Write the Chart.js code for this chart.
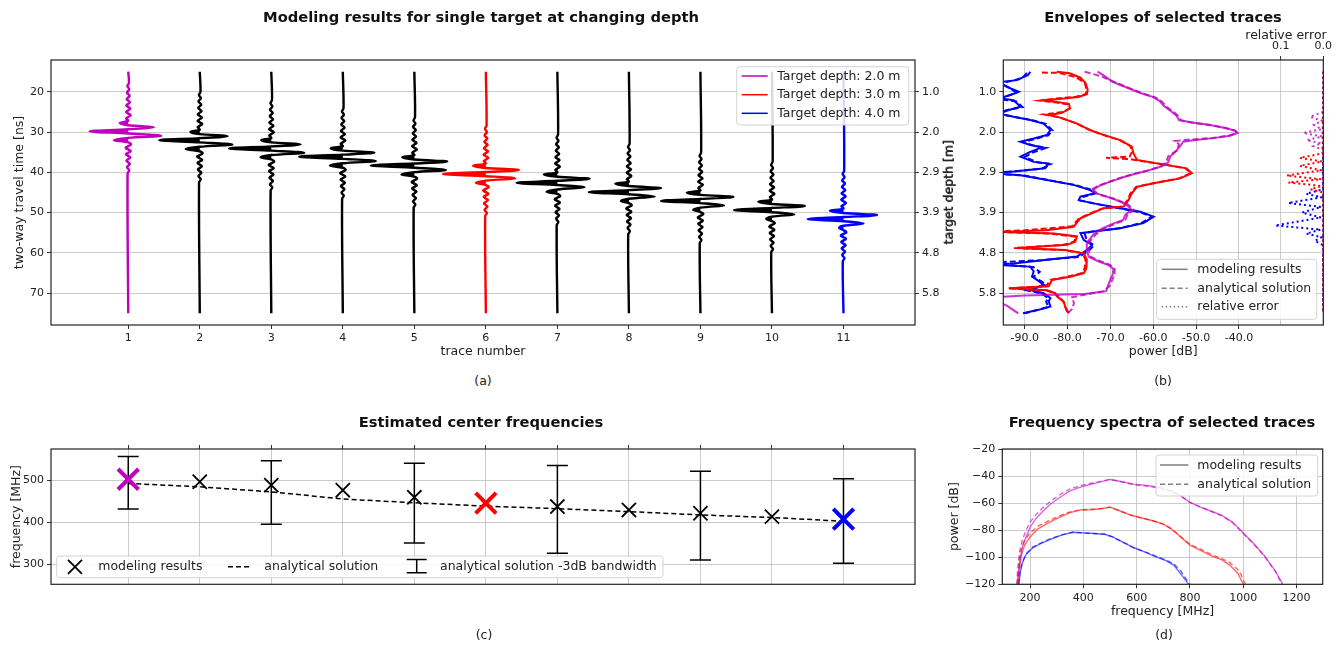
<!DOCTYPE html>
<html><head><meta charset="utf-8">
<script src="https://cdn.jsdelivr.net/npm/chart.js@4.4.1/dist/chart.umd.min.js"></script>
<style>
body{margin:0;background:#fff;}
#wrap{position:relative;width:1343px;height:649px;overflow:hidden;font-family:'DejaVu Sans',sans-serif;color:#111;}
canvas{position:absolute;}
.t{position:absolute;white-space:nowrap;transform:translate(-50%,-50%);}
.title{font-weight:bold;font-size:14.7px;}
.lbl{font-size:12.5px;color:#222;}
</style></head><body>
<div id="wrap">
<canvas id="ca" width="960" height="370" style="left:0;top:0"></canvas>
<canvas id="cb" width="408" height="370" style="left:935px;top:0"></canvas>
<canvas id="cc" width="935" height="249" style="left:0;top:400px"></canvas>
<canvas id="cd" width="408" height="249" style="left:935px;top:400px"></canvas>
<div class="t title" style="left:481px;top:16px">Modeling results for single target at changing depth</div>
<div class="t title" style="left:1163px;top:16px">Envelopes of selected traces</div>
<div class="t title" style="left:481px;top:421px">Estimated center frequencies</div>
<div class="t title" style="left:1162px;top:421px">Frequency spectra of selected traces</div>
<div class="t lbl" style="left:483px;top:380px">(a)</div>
<div class="t lbl" style="left:1163px;top:380px">(b)</div>
<div class="t lbl" style="left:484px;top:634px">(c)</div>
<div class="t lbl" style="left:1164px;top:634px">(d)</div>
<div class="t lbl" style="left:1286px;top:34px">relative error</div>
<div class="t lbl" style="left:948px;top:192px;transform:translate(-50%,-50%) rotate(-90deg)">target depth [m]</div>
</div>
<script>
// ---------------- DATA ----------------
// panel (a)
const traceNumbers = [1,2,3,4,5,6,7,8,9,10,11];
const traceArrivalNs = [29.8,32.0,34.05,36.1,38.3,40.4,42.6,44.9,47.1,49.35,51.6];
const traceWindowNs = [15,75];
const timeTicksNs = [20,30,40,50,60,70];
const depthTickLabels = ['1.0','2.0','2.9','3.9','4.8','5.8'];
const legendDepthsM = [2.0,3.0,4.0];
const rippleBeforeNs = [-12.0,-11.2,-10.4,-9.6,-8.8,-8.0,-7.2,-6.4,-5.6,-4.8,-4.0,-3.2];
const rippleBeforeAmp = [0.010,-0.012,0.015,-0.018,0.020,-0.022,0.025,-0.028,0.030,-0.032,0.035,-0.030];
const eventOffsetsNs = [-2.6,-2.05,-1.5,-1.0,-0.5,0,0.55,1.1,1.65,2.2,2.75];
const lobeAmps = [
  [-0.12,0.36,-0.54,0.46,-0.20],
  [-0.13,0.39,-0.565,0.455,-0.196],
  [-0.14,0.41,-0.59,0.46,-0.15],
  [-0.17,0.44,-0.61,0.46,-0.18],
  [-0.17,0.46,-0.61,0.44,-0.18],
  [-0.18,0.46,-0.60,0.41,-0.14],
  [-0.19,0.45,-0.57,0.38,-0.15],
  [-0.19,0.45,-0.56,0.36,-0.11],
  [-0.19,0.46,-0.55,0.33,-0.10],
  [-0.19,0.46,-0.53,0.31,-0.08],
  [-0.19,0.47,-0.50,0.28,-0.06]
];
const rippleAfterNs = [3.3,4.1,4.9,5.7,6.5,7.3,8.1,8.9,9.7,10.5];
const rippleAfterAmp = [0.040,-0.038,0.035,-0.032,0.030,-0.026,0.022,-0.018,0.014,-0.010];

// panel (b): [power dB, time ns]
const envMagModel = [[-73.0,15.0],[-71.5,16.0],[-69.5,17.5],[-66.5,18.8],[-63.0,20.3],[-60.0,21.3],[-58.5,22.3],[-57.5,23.5],[-56.0,24.7],[-54.5,26.0],[-54.0,27.0],[-51.0,27.6],[-47.0,28.2],[-43.5,28.9],[-41.0,29.6],[-40.3,30.2],[-42.0,30.9],[-46.0,31.5],[-50.5,32.0],[-53.0,32.4],[-53.5,33.2],[-54.5,34.5],[-56.0,36.0],[-56.5,37.5],[-58.0,38.5],[-61.0,39.5],[-64.0,40.3],[-67.0,41.2],[-70.0,42.3],[-72.5,43.3],[-74.0,44.3],[-73.0,45.3],[-69.5,46.5],[-66.5,47.8],[-65.0,49.3],[-66.5,50.5],[-67.0,51.8],[-69.5,52.8],[-72.0,54.0],[-74.0,55.5],[-75.5,57.5],[-75.5,59.5],[-75.0,61.0],[-73.0,62.0],[-70.5,63.0],[-69.3,64.0],[-69.5,65.5],[-70.0,66.5],[-70.5,68.0],[-71.0,69.5],[-76.0,70.2],[-90.0,70.6],[-100.0,71.2],[-96.0,72.2],[-94.0,73.2],[-91.5,75.0]];
const envMagAnalytic = [[-76.0,15.0],[-72.0,16.2],[-69.0,17.6],[-66.0,18.9],[-62.5,20.4],[-59.5,21.4],[-58.0,22.4],[-57.0,23.6],[-55.5,24.8],[-54.0,26.1],[-53.5,27.1],[-50.5,27.7],[-46.5,28.3],[-43.0,29.0],[-40.8,29.7],[-40.5,30.2],[-42.5,30.9],[-46.5,31.5],[-52.0,31.9],[-55.0,32.2],[-54.0,33.0],[-54.5,34.6],[-56.5,36.0],[-57.0,37.5],[-58.5,38.6],[-61.5,39.6],[-64.5,40.4],[-67.5,41.3],[-70.5,42.4],[-73.0,43.4],[-74.5,44.4],[-73.0,45.4],[-69.0,46.6],[-66.0,47.9],[-64.5,49.3],[-66.0,50.5],[-66.5,51.8],[-69.0,52.8],[-71.5,54.0],[-73.5,55.5],[-75.0,57.5],[-75.0,59.5],[-74.5,61.0],[-72.5,62.0],[-70.0,63.0],[-69.0,64.0],[-69.0,65.5],[-69.5,66.5],[-70.0,68.0],[-71.5,69.5],[-76.0,70.4],[-79.0,71.0],[-78.5,72.5],[-79.0,74.0],[-80.0,75.0]];
const envRedModel = [[-82.5,15.0],[-79.5,15.4],[-77.0,16.5],[-75.8,17.8],[-75.3,19.5],[-75.5,20.6],[-77.5,21.3],[-82.0,21.8],[-86.0,22.1],[-82.5,22.5],[-79.7,23.0],[-79.4,24.1],[-81.3,25.2],[-84.4,25.8],[-81.7,26.4],[-77.8,27.9],[-74.7,29.5],[-71.6,30.7],[-67.7,32.0],[-65.0,33.6],[-64.6,35.3],[-63.8,36.9],[-56.8,38.2],[-52.2,39.0],[-51.0,40.2],[-53.7,41.5],[-59.9,42.7],[-63.8,43.6],[-65.0,45.2],[-65.8,46.9],[-66.9,48.5],[-71.6,48.9],[-77.0,51.4],[-78.6,53.5],[-85.0,54.4],[-95.5,54.8],[-83.2,55.2],[-77.8,55.9],[-78.2,57.2],[-80.1,58.0],[-91.5,58.8],[-80.5,59.3],[-76.2,60.1],[-75.5,61.7],[-75.6,63.8],[-76.2,65.0],[-79.4,65.9],[-83.6,66.7],[-84.4,68.3],[-93.5,68.8],[-84.8,69.3],[-82.9,70.0],[-82.5,70.8],[-80.9,72.1],[-80.5,73.5],[-79.7,75.0]];
const envRedAnalytic = [[-86.0,15.2],[-82.0,15.3],[-78.0,16.4],[-76.0,17.8],[-75.5,19.5],[-75.8,20.6],[-78.0,21.2],[-83.0,21.7],[-86.5,22.2],[-83.0,22.6],[-80.0,23.1],[-79.5,24.1],[-81.0,25.0],[-85.5,25.6],[-82.0,26.3],[-78.0,27.8],[-75.0,29.4],[-72.0,30.6],[-68.0,31.9],[-65.3,33.5],[-65.0,35.0],[-65.5,36.1],[-71.0,36.4],[-65.5,36.7],[-64.0,37.0],[-57.0,38.1],[-52.5,39.0],[-51.2,40.2],[-54.0,41.5],[-60.0,42.7],[-64.0,43.6],[-65.3,45.2],[-66.0,46.9],[-67.2,48.5],[-72.0,49.0],[-77.3,51.4],[-79.0,53.4],[-90.0,54.4],[-100.0,54.7],[-84.0,55.2],[-78.0,56.0],[-78.5,57.2],[-81.0,58.0],[-92.5,58.8],[-81.0,59.3],[-76.5,60.1],[-75.8,61.7],[-76.0,63.8],[-76.5,65.0],[-80.0,65.9],[-84.0,66.7],[-85.0,68.3],[-94.0,68.8],[-85.0,69.3],[-83.0,70.0],[-82.0,70.8],[-81.0,72.1],[-80.5,73.5],[-80.0,75.0]];
const envBlueModel = [[-88.7,15.0],[-89.2,15.8],[-91.8,17.1],[-96.0,17.6],[-94.1,18.8],[-91.4,20.0],[-93.3,20.8],[-96.0,21.6],[-92.6,22.1],[-91.0,23.7],[-93.7,24.5],[-96.0,25.4],[-92.6,26.2],[-88.7,27.0],[-85.6,27.9],[-84.0,29.5],[-84.8,30.7],[-87.9,31.6],[-91.0,32.4],[-88.7,33.2],[-86.0,33.8],[-88.7,34.9],[-91.0,36.1],[-87.9,37.4],[-84.4,37.8],[-85.2,39.0],[-92.6,39.8],[-100.0,40.1],[-91.0,40.7],[-84.8,41.9],[-78.6,43.1],[-74.7,44.4],[-73.5,45.2],[-77.0,46.0],[-77.4,46.9],[-73.9,47.7],[-67.7,48.9],[-63.0,49.8],[-59.9,51.0],[-62.3,52.6],[-67.7,53.9],[-73.9,54.7],[-77.0,55.1],[-76.2,56.8],[-74.3,58.0],[-75.5,59.3],[-77.8,60.9],[-84.8,61.7],[-92.6,62.6],[-100.0,62.8],[-88.7,63.4],[-87.9,64.6],[-88.3,65.9],[-86.7,67.0],[-85.6,67.9],[-88.7,69.2],[-85.6,70.0],[-84.0,71.2],[-84.4,72.0],[-84.0,73.3],[-87.0,74.2],[-90.4,75.0]];
const envBlueAnalytic = [[-89.5,15.3],[-90.5,16.5],[-93.0,17.3],[-96.0,17.8],[-93.5,19.0],[-92.0,20.2],[-94.0,21.0],[-96.0,21.8],[-92.0,22.4],[-90.5,23.8],[-94.5,24.6],[-96.0,25.5],[-92.0,26.3],[-88.0,27.1],[-85.0,28.0],[-83.5,29.6],[-84.5,30.8],[-87.5,31.7],[-90.5,32.5],[-88.0,33.3],[-85.0,33.9],[-88.0,35.0],[-90.0,36.2],[-87.0,37.5],[-84.0,38.0],[-86.0,39.1],[-94.0,39.9],[-100.0,40.2],[-90.0,40.8],[-84.0,42.0],[-78.0,43.2],[-74.0,44.5],[-73.8,45.3],[-76.5,46.1],[-77.0,47.0],[-73.5,47.8],[-67.5,49.0],[-63.2,49.9],[-60.3,51.0],[-62.8,52.6],[-68.0,53.9],[-74.0,54.6],[-76.0,55.2],[-75.5,56.9],[-73.8,58.1],[-75.0,59.4],[-77.3,61.0],[-86.0,61.8],[-100.0,62.5],[-88.0,63.5],[-86.5,64.7],[-88.0,66.0],[-86.0,67.1],[-85.0,68.0],[-89.5,69.3],[-86.0,70.1],[-84.5,71.3],[-85.0,72.1],[-84.5,73.4],[-87.5,74.3],[-90.0,75.0]];
// relative error: [error, time ns]
const errMag = [[0,15],[0.001,25.0],[0.031,26.2],[0.003,27.2],[0.022,28.2],[0.004,29.3],[0.047,30.2],[0.003,31.1],[0.039,32.0],[0.005,32.8],[0.023,33.5],[0.001,34.4],[0,75]];
const errRed = [[0,15],[0.002,35.3],[0.055,36.4],[0.003,37.3],[0.055,38.4],[0.004,39.5],[0.086,40.8],[0.005,41.7],[0.082,42.5],[0.004,43.4],[0.030,44.2],[0.001,45.0],[0,75]];
const errBlue = [[0,15],[0.001,44.2],[0.040,45.3],[0.004,46.2],[0.082,47.6],[0.005,48.6],[0.050,50.0],[0.005,51.2],[0.113,53.2],[0.006,54.2],[0.040,55.2],[0.004,56.1],[0.020,57.0],[0.002,58.0],[0,59],[0,75]];
const powerTicksDb = [-90,-80,-70,-60,-50,-40];
const errTicks = [0.1,0.0];

// panel (c)
const modeledFreqMHz = [502,496,488,476,459,445,437,429,421,413,407];
const analyticFreqMHz = [492,484,472,455,446,438,432,425,417,411,402];
const bwTraces = [1,3,5,7,9,11];
const bwHighMHz = [556,546,540,535,521,503];
const bwLowMHz = [431,395,350,326,310,302];
const freqTicksMHz = [300,400,500];

// panel (d): [frequency MHz, power dB]
const specMagModel = [[152,-120],[157,-110],[163,-101],[172,-92],[185,-85],[200,-78],[220,-72],[245,-66.5],[275,-61],[310,-56],[350,-51],[400,-47.5],[450,-45],[500,-42.5],[540,-44],[590,-46],[640,-47],[690,-48.5],[730,-51],[770,-55],[800,-59.5],[840,-63],[880,-66],[920,-69],[960,-74],[1000,-82],[1040,-90],[1080,-99],[1120,-110],[1148,-120]];
const specMagAnalytic = [[150,-120],[154,-108],[160,-97],[170,-88],[185,-80],[200,-74],[220,-69],[245,-64],[275,-59],[310,-54],[350,-49.5],[400,-46.5],[450,-44.5],[500,-42.5],[540,-44],[590,-46.5],[640,-47.5],[690,-49],[730,-51.5],[770,-55.5],[800,-59.5],[840,-63],[880,-66],[920,-69.5],[960,-74.5],[1000,-82.5],[1040,-90.5],[1080,-99.5],[1120,-110.5],[1146,-120]];
const specRedModel = [[156,-120],[160,-108],[168,-98],[180,-91],[200,-85],[230,-79],[270,-74.5],[310,-70.5],[350,-67],[390,-65],[430,-65],[470,-64],[500,-63],[540,-66],[580,-69],[620,-71],[660,-73],[700,-75.5],[730,-79],[770,-86],[800,-91],[840,-95],[880,-99],[920,-102],[950,-106],[980,-112],[1000,-120]];
const specRedAnalytic = [[154,-120],[158,-105],[165,-95],[178,-88],[200,-82],[230,-77],[270,-73],[310,-69.5],[350,-66.5],[390,-65],[430,-64.5],[470,-64],[500,-63],[540,-66],[580,-69],[620,-71],[660,-73],[700,-75.5],[730,-79],[770,-85.5],[800,-90.5],[840,-94],[880,-98],[920,-101],[950,-104],[985,-110],[1008,-120]];
const specBlueModel = [[158,-120],[163,-112],[170,-105],[185,-98],[210,-93],[240,-90],[280,-86.5],[320,-83.5],[360,-81.5],[400,-82],[440,-82.5],[480,-83],[510,-85],[550,-89],[590,-93],[630,-96],[670,-99.5],[710,-102.5],[740,-106],[760,-111],[780,-116],[795,-120]];
const specBlueAnalytic = [[157,-120],[162,-111],[170,-104],[185,-97.5],[210,-92.5],[240,-89.5],[280,-86],[320,-83.5],[360,-81.5],[400,-82],[440,-82.5],[480,-83],[510,-85],[550,-89],[590,-93],[630,-96],[670,-99],[710,-102],[740,-105],[765,-110],[785,-116],[800,-120]];
const specFreqTicks = [200,400,600,800,1000,1200];
const specPowerTicks = [-120,-100,-80,-60,-40,-20];

// ---------------- STYLE ----------------
const MAG='#bf00bf', RED='#ff0000', BLUE='#0000ff';
const GRID='rgba(170,170,170,0.6)';
const TICKC='#333';
const FONT="'DejaVu Sans', sans-serif";
Chart.defaults.font.family = FONT;
Chart.defaults.font.size = 11;
Chart.defaults.color = '#222';
Chart.defaults.animation = false;
Chart.defaults.events = [];
Chart.defaults.plugins.legend.display = false;
Chart.defaults.plugins.tooltip.enabled = false;

const fixedTicks = vals => s => { s.ticks = vals.map(v => ({value: v})); };
const fixW = w => s => { s.width = w; };
const fixH = h => s => { s.height = h; };
const toXY = arr => arr.map(p => ({x: p[0], y: p[1]}));

const framePlugin = {id:'frame', afterDraw(chart){
  const a=chart.chartArea, c=chart.ctx; c.save(); c.strokeStyle='#222'; c.lineWidth=1.2;
  c.strokeRect(a.left, a.top, a.right-a.left, a.bottom-a.top); c.restore(); }};

function rr(c,x,y,w,h,r){ c.beginPath(); c.moveTo(x+r,y); c.lineTo(x+w-r,y); c.quadraticCurveTo(x+w,y,x+w,y+r);
  c.lineTo(x+w,y+h-r); c.quadraticCurveTo(x+w,y+h,x+w-r,y+h); c.lineTo(x+r,y+h); c.quadraticCurveTo(x,y+h,x,y+h-r);
  c.lineTo(x,y+r); c.quadraticCurveTo(x,y,x+r,y); c.closePath(); }
function legendPlugin(spec){
  return {id:'lg'+spec.id, afterDraw(chart){
    const c=chart.ctx, b=spec.box; c.save();
    rr(c,b.x,b.y,b.w,b.h,3); c.fillStyle='rgba(255,255,255,0.85)'; c.fill(); c.strokeStyle='#d3d3d3'; c.lineWidth=1; c.stroke();
    for(const it of spec.items){
      c.setLineDash([]);
      if(it.k==='line'){ c.beginPath(); c.strokeStyle=it.color; c.lineWidth=it.lw||1.5; c.setLineDash(it.dash||[]);
        c.moveTo(it.x1,it.y); c.lineTo(it.x2,it.y); c.stroke(); }
      else if(it.k==='x'){ c.beginPath(); c.strokeStyle=it.color; c.lineWidth=it.lw; const r=it.r;
        c.moveTo(it.x-r,it.y-r); c.lineTo(it.x+r,it.y+r); c.moveTo(it.x-r,it.y+r); c.lineTo(it.x+r,it.y-r); c.stroke(); }
      else if(it.k==='eb'){ c.beginPath(); c.strokeStyle=it.color; c.lineWidth=it.lw;
        c.moveTo(it.x,it.y1); c.lineTo(it.x,it.y2); c.moveTo(it.x-it.cap,it.y1); c.lineTo(it.x+it.cap,it.y1);
        c.moveTo(it.x-it.cap,it.y2); c.lineTo(it.x+it.cap,it.y2); c.stroke(); }
      else if(it.k==='text'){ c.fillStyle='#222'; c.font="12.5px "+FONT; c.textBaseline='middle'; c.textAlign='left'; c.fillText(it.text,it.x,it.y); }
    }
    c.restore(); }};
}
const axTitle = (text, pad) => ({display:true, text, color:'#222', font:{size:12.5}, padding:pad});

// ---------------- PANEL (a) ----------------
const traceColor = i => (i===0?MAG:(i===5?RED:(i===10?BLUE:'#000')));
function tracePoints(i){
  const n=traceNumbers[i], t0=traceArrivalNs[i], la=lobeAmps[i];
  const pts=[{x:n,y:traceWindowNs[0]}];
  rippleBeforeNs.forEach((o,k)=>pts.push({x:n+rippleBeforeAmp[k], y:t0+o}));
  const ev=[0,la[0],0,la[1],0,la[2],0,la[3],0,la[4],0];
  eventOffsetsNs.forEach((o,k)=>pts.push({x:n+ev[k], y:t0+o}));
  rippleAfterNs.forEach((o,k)=>pts.push({x:n+rippleAfterAmp[k], y:t0+o}));
  pts.push({x:n,y:traceWindowNs[1]});
  return pts;
}
const aDatasets=[];
traceNumbers.forEach((n,i)=>{
  const col=traceColor(i), pts=tracePoints(i);
  aDatasets.push({data:pts, borderColor:col, borderWidth:2.4, pointRadius:0, tension:0.35, fill:false, order:0});
  aDatasets.push({data:pts.map(p=>({x:Math.min(p.x,n), y:p.y})), borderWidth:0, borderColor:'rgba(0,0,0,0)',
    backgroundColor:col, pointRadius:0, tension:0.35, fill:{value:n}, order:1});
});
const legendA = legendPlugin({id:'a', box:{x:736.7,y:66.7,w:172,h:58.3}, items:[
  {k:'line',x1:741.7,x2:767.7,y:76,color:MAG,lw:1.5},{k:'text',x:777.3,y:76.5,text:`Target depth: ${legendDepthsM[0].toFixed(1)} m`},
  {k:'line',x1:741.7,x2:767.7,y:94.7,color:RED,lw:1.5},{k:'text',x:777.3,y:95,text:`Target depth: ${legendDepthsM[1].toFixed(1)} m`},
  {k:'line',x1:741.7,x2:767.7,y:113.3,color:BLUE,lw:1.5},{k:'text',x:777.3,y:113.6,text:`Target depth: ${legendDepthsM[2].toFixed(1)} m`}]});
new Chart(document.getElementById('ca'), {
  type:'line', data:{datasets:aDatasets},
  options:{responsive:false, indexAxis:'y', layout:{padding:{top:60,left:0,right:0,bottom:0}},
    scales:{
      x:{type:'linear', position:'bottom', min:-0.08, max:12, afterBuildTicks:fixedTicks(traceNumbers), afterFit:fixH(45),
        ticks:{autoSkip:false, maxRotation:0, padding:3, callback:v=>String(v)},
        grid:{drawOnChartArea:false, tickLength:4, tickColor:TICKC}, border:{display:false},
        title:axTitle('trace number',{top:0,bottom:10.5})},
      y:{type:'linear', position:'left', reverse:true, min:12.1, max:77.9, afterBuildTicks:fixedTicks(timeTicksNs), afterFit:fixW(51),
        ticks:{padding:3, callback:v=>String(v)}, grid:{color:GRID, tickLength:4, tickColor:TICKC}, border:{display:false},
        title:axTitle('two-way travel time [ns]',{top:12,bottom:0})},
      y2:{type:'linear', position:'right', reverse:true, min:12.1, max:77.9, afterBuildTicks:fixedTicks(timeTicksNs), afterFit:fixW(45),
        ticks:{padding:3, callback:(v,i)=>depthTickLabels[i]}, grid:{drawOnChartArea:false, tickLength:4, tickColor:TICKC}, border:{display:false}}
    }},
  plugins:[framePlugin, legendA]
});

// ---------------- PANEL (b) ----------------
const MAGB='rgba(191,0,191,0.8)';
const envLine = (arr,col,dash) => ({data:toXY(arr), borderColor:col, borderWidth:2, borderDash:dash||[], showLine:true, pointRadius:0, xAxisID:'x', yAxisID:'y'});
const errLine = (arr,col) => ({data:toXY(arr), borderColor:col, borderWidth:2, borderDash:[2,3], showLine:true, pointRadius:0, xAxisID:'x2', yAxisID:'y'});
const legendB = legendPlugin({id:'b', box:{x:221.7,y:259.3,w:160,h:60}, items:[
  {k:'line',x1:226.7,x2:252.7,y:269.3,color:'rgba(0,0,0,0.5)',lw:1.5},{k:'text',x:262.3,y:269.6,text:'modeling results'},
  {k:'line',x1:226.7,x2:252.7,y:288.3,color:'rgba(0,0,0,0.5)',lw:1.5,dash:[5,3]},{k:'text',x:262.3,y:288.6,text:'analytical solution'},
  {k:'line',x1:226.7,x2:252.7,y:306.7,color:'rgba(0,0,0,0.5)',lw:1.5,dash:[1.5,2.5]},{k:'text',x:262.3,y:307,text:'relative error'}]});
new Chart(document.getElementById('cb'), {
  type:'scatter',
  data:{datasets:[
    envLine(envMagModel,MAGB), envLine(envMagAnalytic,MAGB,[6,3]),
    envLine(envRedModel,RED), envLine(envRedAnalytic,RED,[6,3]),
    envLine(envBlueModel,BLUE), envLine(envBlueAnalytic,BLUE,[6,3]),
    errLine(errMag,MAGB), errLine(errRed,RED), errLine(errBlue,BLUE)]},
  options:{responsive:false, layout:{padding:{top:20,left:0,right:19.7,bottom:0}},
    scales:{
      x:{type:'linear', position:'bottom', min:-95, max:-20.3, afterBuildTicks:fixedTicks(powerTicksDb), afterFit:fixH(45),
        ticks:{autoSkip:false, maxRotation:0, padding:3, callback:v=>v.toFixed(1)},
        grid:{color:GRID, tickLength:4, tickColor:TICKC}, border:{display:false}, title:axTitle('power [dB]',{top:0,bottom:10.5})},
      x2:{type:'linear', position:'top', reverse:true, min:0, max:0.751, afterBuildTicks:fixedTicks(errTicks), afterFit:fixH(40),
        ticks:{autoSkip:false, maxRotation:0, padding:3, callback:v=>v.toFixed(1)},
        grid:{color:GRID, tickLength:4, tickColor:TICKC}, border:{display:false}},
      y:{type:'linear', position:'left', reverse:true, min:12.1, max:77.9, afterBuildTicks:fixedTicks(timeTicksNs), afterFit:fixW(68.3),
        ticks:{padding:3, callback:(v,i)=>depthTickLabels[i]}, grid:{color:GRID, tickLength:4, tickColor:TICKC}, border:{display:false},
        title:axTitle('target depth [m]',{top:7.5,bottom:0})}
    }},
  plugins:[framePlugin, legendB]
});

// ---------------- PANEL (c) ----------------
const markerColors = traceNumbers.map((n,i)=>traceColor(i));
const cDatasets = [];
cDatasets.push({data:traceNumbers.map((n,i)=>({x:n,y:modeledFreqMHz[i]})), showLine:false, pointStyle:'crossRot',
  pointRadius:traceNumbers.map((n,i)=>markerColors[i]==='#000'?10:14.5),
  pointBorderWidth:traceNumbers.map((n,i)=>markerColors[i]==='#000'?1.8:4),
  pointBorderColor:markerColors, pointBackgroundColor:markerColors, order:0});
cDatasets.push({data:traceNumbers.map((n,i)=>({x:n,y:analyticFreqMHz[i]})), showLine:true, borderColor:'#000', borderWidth:1.5,
  borderDash:[5,3], pointRadius:0, order:1});
bwTraces.forEach((n,k)=>cDatasets.push({data:[{x:n,y:bwHighMHz[k]},{x:n,y:bwLowMHz[k]}], showLine:true, borderColor:'#000',
  borderWidth:1.5, pointStyle:'line', pointRadius:10.5, pointBorderWidth:1.5, pointBorderColor:'#000', order:2}));
const legendC = legendPlugin({id:'c', box:{x:56.7,y:156,w:606.3,h:21.7}, items:[
  {k:'x',x:75,y:166.8,r:7,color:'#000',lw:1.8},{k:'text',x:98.3,y:167,text:'modeling results'},
  {k:'line',x1:228,x2:252,y:166.8,color:'#000',lw:1.5,dash:[5,3]},{k:'text',x:264.3,y:167,text:'analytical solution'},
  {k:'eb',x:416.7,y1:159.5,y2:172.7,cap:10,color:'#000',lw:1.5},{k:'text',x:440,y:167,text:'analytical solution -3dB bandwidth'}]});
new Chart(document.getElementById('cc'), {
  type:'scatter', data:{datasets:cDatasets},
  options:{responsive:false, layout:{padding:{top:40,left:0,right:20,bottom:64.7}},
    scales:{
      x:{type:'linear', position:'top', min:-0.08, max:12, afterBuildTicks:fixedTicks(traceNumbers), afterFit:fixH(9),
        ticks:{display:false}, grid:{color:GRID, tickLength:4, tickColor:TICKC}, border:{display:false}},
      y:{type:'linear', position:'left', min:252, max:574, afterBuildTicks:fixedTicks(freqTicksMHz), afterFit:fixW(51),
        ticks:{padding:3, callback:v=>String(v)}, grid:{color:GRID, tickLength:4, tickColor:TICKC}, border:{display:false},
        title:axTitle('frequency [MHz]',{top:9.5,bottom:0})}
    }},
  plugins:[framePlugin, legendC]
});

// ---------------- PANEL (d) ----------------
const specLine = (arr,col,dash) => ({data:toXY(arr), borderColor:col, borderWidth:1.4, borderDash:dash||[], showLine:true, pointRadius:0});
const legendD = legendPlugin({id:'d', box:{x:221,y:55,w:161.7,h:41}, items:[
  {k:'line',x1:225,x2:253.3,y:65,color:'rgba(0,0,0,0.5)',lw:1.5},{k:'text',x:262.3,y:65.3,text:'modeling results'},
  {k:'line',x1:225,x2:253.3,y:84.3,color:'rgba(0,0,0,0.5)',lw:1.5,dash:[5,3]},{k:'text',x:262.3,y:84.6,text:'analytical solution'}]});
new Chart(document.getElementById('cd'), {
  type:'scatter',
  data:{datasets:[
    specLine(specMagModel,'rgba(191,0,191,0.6)'), specLine(specMagAnalytic,'rgba(191,0,191,0.6)',[5,3]),
    specLine(specRedModel,'rgba(255,0,0,0.6)'), specLine(specRedAnalytic,'rgba(255,0,0,0.6)',[5,3]),
    specLine(specBlueModel,'rgba(0,0,255,0.6)'), specLine(specBlueAnalytic,'rgba(0,0,255,0.6)',[5,3])]},
  options:{responsive:false, layout:{padding:{top:49,left:0,right:20.3,bottom:0}},
    scales:{
      x:{type:'linear', position:'bottom', min:96, max:1298, afterBuildTicks:fixedTicks(specFreqTicks), afterFit:fixH(64.7),
        ticks:{autoSkip:false, maxRotation:0, padding:3, callback:v=>String(v)},
        grid:{color:GRID, tickLength:4, tickColor:TICKC}, border:{display:false}, title:axTitle('frequency [MHz]',{top:0,bottom:29.8})},
      y:{type:'linear', position:'left', min:-120, max:-20, afterBuildTicks:fixedTicks(specPowerTicks), afterFit:fixW(67.3),
        ticks:{padding:3, callback:v=>(v<0?'\u2212':'')+Math.abs(v)}, grid:{color:GRID, tickLength:4, tickColor:TICKC}, border:{display:false},
        title:axTitle('power [dB]',{top:12.5,bottom:0})}
    }},
  plugins:[framePlugin, legendD]
});
</script>
</body></html>
